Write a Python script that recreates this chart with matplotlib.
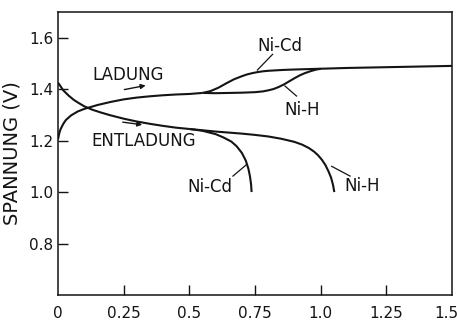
import numpy as np
import matplotlib
matplotlib.use("Agg")
import matplotlib.pyplot as plt
import matplotlib.transforms as mtransforms

# Ladung (charge) - gemeinsamer Anfang, dann Verzweigung
ladung_x = [0.0, 0.005, 0.01, 0.02, 0.03, 0.05, 0.075, 0.1, 0.15, 0.2, 0.25,
            0.3, 0.35, 0.4, 0.45, 0.5, 0.55]
ladung_v = [1.205, 1.23, 1.245, 1.265, 1.28, 1.298, 1.313, 1.323, 1.338, 1.350,
            1.360, 1.367, 1.372, 1.376, 1.379, 1.381, 1.385]

nicd_lad_x = [0.55, 0.58, 0.61, 0.64, 0.67, 0.70, 0.72, 0.74, 0.76, 0.78, 0.8,
              0.85, 0.9, 1.0, 1.1, 1.2, 1.3, 1.4, 1.5]
nicd_lad_v = [1.385, 1.392, 1.405, 1.422, 1.438, 1.450, 1.457, 1.462, 1.466,
              1.469, 1.471, 1.474, 1.476, 1.479, 1.482, 1.484, 1.486, 1.488, 1.490]

nih_lad_x = [0.55, 0.6, 0.65, 0.7, 0.75, 0.78, 0.8, 0.82, 0.84, 0.86, 0.88,
             0.9, 0.92, 0.94, 0.96, 0.98, 1.0]
nih_lad_v = [1.385, 1.384, 1.385, 1.386, 1.388, 1.391, 1.395, 1.400, 1.408,
             1.418, 1.430, 1.442, 1.453, 1.462, 1.469, 1.475, 1.479]

# Entladung (discharge)
entl_x = [0.0, 0.01, 0.02, 0.04, 0.06, 0.08, 0.1, 0.13, 0.16, 0.2, 0.25, 0.3,
          0.35, 0.4, 0.45, 0.5]
entl_v = [1.425, 1.41, 1.395, 1.375, 1.358, 1.345, 1.333, 1.32, 1.31, 1.298,
          1.285, 1.274, 1.265, 1.257, 1.25, 1.245]

nicd_entl_x = [0.5, 0.55, 0.6, 0.63, 0.66, 0.68, 0.70, 0.715, 0.725, 0.731,
               0.735, 0.737]
nicd_entl_v = [1.245, 1.238, 1.225, 1.212, 1.196, 1.178, 1.152, 1.122, 1.09,
               1.06, 1.03, 1.0]

nih_entl_x = [0.5, 0.55, 0.6, 0.65, 0.7, 0.75, 0.8, 0.85, 0.9, 0.93, 0.955,
              0.975, 0.99, 1.005, 1.018, 1.03, 1.04, 1.047, 1.052]
nih_entl_v = [1.245, 1.240, 1.235, 1.231, 1.227, 1.222, 1.216, 1.207, 1.195,
              1.184, 1.171, 1.157, 1.143, 1.125, 1.105, 1.08, 1.055, 1.028, 1.0]

x_ticks = [0, 0.25, 0.5, 0.75, 1.0, 1.25, 1.5]
x_labels = ["0", "0.25", "0.5", "0.75", "1.0", "1.25", "1.5"]
y_ticks = [0.8, 1.0, 1.2, 1.4, 1.6]
y_labels = ["0.8", "1.0", "1.2", "1.4", "1.6"]

ink = "#141414"
fig = plt.figure(figsize=(4.57, 3.2), dpi=100)
ax = fig.add_axes([0.127, 0.078, 0.862, 0.885])

for xs, vs in [(ladung_x, ladung_v), (nicd_lad_x, nicd_lad_v), (nih_lad_x, nih_lad_v),
               (entl_x, entl_v), (nicd_entl_x, nicd_entl_v), (nih_entl_x, nih_entl_v)]:
    ax.plot(xs, vs, color=ink, lw=1.5, solid_capstyle="butt", solid_joinstyle="round")

ax.set_xlim(0, 1.5)
ax.set_ylim(0.6, 1.7)
ax.set_xticks(x_ticks)
ax.set_xticklabels(x_labels)
ax.set_yticks(y_ticks)
ax.set_yticklabels(y_labels)
ax.tick_params(axis="both", direction="in", length=7, width=1.0, colors=ink,
               labelsize=11)
ax.tick_params(axis="x", pad=8)
ax.tick_params(axis="y", pad=3.5)
# Randticks bei 0 und 1.5 ausblenden
xt = ax.xaxis.get_major_ticks()
xt[0].tick1line.set_visible(False)
xt[-1].tick1line.set_visible(False)
# letztes Label etwas nach links, damit es nicht abgeschnitten wird
lbl = ax.get_xticklabels()[-1]
lbl.set_transform(lbl.get_transform() +
                  mtransforms.ScaledTranslation(-6 / 100, 0, fig.dpi_scale_trans))
for s in ax.spines.values():
    s.set_linewidth(1.1)
    s.set_color(ink)

ax.set_ylabel("SPANNUNG (V)", fontsize=14, color=ink, labelpad=5)

fs = 12
ax.text(0.266, 1.455, "LADUNG", fontsize=fs, color=ink, ha="center", va="center")
ax.annotate("", xy=(0.344, 1.416), xytext=(0.242, 1.396),
            arrowprops=dict(arrowstyle="-|>", color=ink, lw=1.0, mutation_scale=7))
ax.text(0.325, 1.20, "ENTLADUNG", fontsize=fs, color=ink, ha="center", va="center")
ax.annotate("", xy=(0.331, 1.260), xytext=(0.236, 1.273),
            arrowprops=dict(arrowstyle="-|>", color=ink, lw=1.0, mutation_scale=7))

# Beschriftungen mit Hinweislinien
labels = [
    ("Ni-Cd", 0.843, 1.567, (0.817, 0.759), (1.535, 1.474)),
    ("Ni-H", 0.931, 1.318, (0.908, 0.864), (1.373, 1.412)),
    ("Ni-Cd", 0.579, 1.02, (0.666, 0.718), (1.062, 1.107)),
    ("Ni-H", 1.157, 1.025, (1.112, 1.042), (1.062, 1.10)),
]
for txt, tx, ty, lx, ly in labels:
    ax.text(tx, ty, txt, fontsize=fs, color=ink, ha="center", va="center")
    ax.plot(lx, ly, color=ink, lw=0.9)

fig.savefig("out.png", dpi=100)
